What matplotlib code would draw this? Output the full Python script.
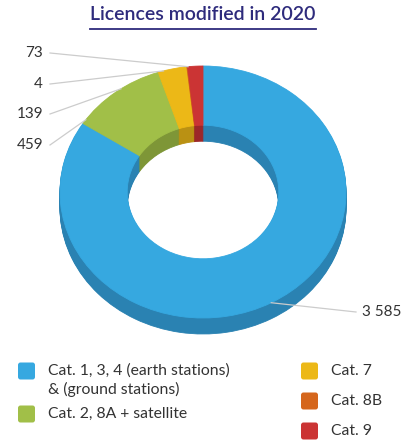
import numpy as np
import matplotlib
matplotlib.use('Agg')
import matplotlib.pyplot as plt
from matplotlib.patches import Wedge, FancyBboxPatch
from matplotlib.transforms import Affine2D

# licence counts per category, drawn clockwise from 12 o'clock
categories = ["Cat. 1, 3, 4 (earth stations)\n& (ground stations)",
              "Cat. 2, 8A + satellite", "Cat. 7", "Cat. 8B", "Cat. 9"]
values = [3585, 459, 139, 4, 73]
value_labels = ["3 585", "459", "139", "4", "73"]

TOP_COLORS = ['#36A8E0', '#A1BF48', '#ECB817', '#D5661C', '#CB3434']
SIDE_COLORS = ['#2A82B2', '#7E9637', '#BA9113', '#A64F16', '#9C2729']
TITLE_COLOR = '#2E2B7C'
TEXT_COLOR = '#333333'
LEADER_COLOR = '#CCCCCC'

plt.rcParams['font.family'] = ['Lato', 'DejaVu Sans']

W, H = 403, 441
fig = plt.figure(figsize=(W / 100, H / 100), dpi=100)
ax = fig.add_axes([0, 0, 1, 1])
ax.set_xlim(0, W)
ax.set_ylim(H, 0)
ax.axis('off')

# ring geometry (pixels)
cx, cy = 203, 192
rx, ry = 143, 126
hole = 0.53
depth = 16
squash = ry / rx

frac = np.array(values, dtype=float) / sum(values)
ends = np.cumsum(frac)
starts = ends - frac


def ring_transform(dy):
    # y axis is inverted, so angles run clockwise on screen
    return Affine2D().scale(1, squash).translate(cx, cy + dy) + ax.transData


def add_ring(dy, colors, z):
    for f0, f1, c in zip(starts, ends, colors):
        w = Wedge((0, 0), rx, -90 + 360 * f0, -90 + 360 * f1, width=rx * (1 - hole),
                  facecolor=c, edgecolor=c, linewidth=0.6,
                  transform=ring_transform(dy), zorder=z)
        ax.add_patch(w)


# extruded side, then the top face
for off in range(depth, 0, -1):
    add_ring(off, SIDE_COLORS, 2)
add_ring(0, TOP_COLORS, 3)


def edge_point(angle_deg):
    a = np.radians(angle_deg)
    return cx + rx * np.sin(a), cy - ry * np.cos(a)


# leader lines and value labels: (anchor angle clockwise from top, label x, label y, align)
label_layout = [(151.5, 362, 312, 'left'),
                (305, 43, 145, 'right'),
                (325, 43, 114, 'right'),
                (344, 43, 84, 'right'),
                (354, 43, 53, 'right')]

for txt, (ang, lx, ly, ha) in zip(value_labels, label_layout):
    px, py = edge_point(ang)
    sx = lx - 6 if ha == 'left' else lx + 7
    ax.plot([sx, px], [ly, py], color=LEADER_COLOR, linewidth=0.9, zorder=4)
    ax.text(lx, ly, txt, ha=ha, va='center', fontsize=11, color=TEXT_COLOR, zorder=5)

# title with underline
ax.text(203, 14, "Licences modified in 2020", ha='center', va='center',
        fontsize=14, fontweight='semibold', color=TITLE_COLOR)
ax.plot([90, 316], [28.5, 28.5], color=TITLE_COLOR, linewidth=1.3)

# legend
legend_pos = [(17, 371), (17, 414), (300, 371), (300, 401), (300, 431)]
for (x, y), c, name in zip(legend_pos, TOP_COLORS, categories):
    ax.add_patch(FancyBboxPatch((x + 1, y - 8.5), 17, 17,
                                boxstyle='round,pad=0,rounding_size=2.5',
                                facecolor=c, edgecolor='none'))
    for i, line in enumerate(name.split('\n')):
        ax.text(x + 31, y + 18 * i, line, ha='left', va='center',
                fontsize=11.3, color=TEXT_COLOR)

fig.savefig('out.png', dpi=100, facecolor='white')
